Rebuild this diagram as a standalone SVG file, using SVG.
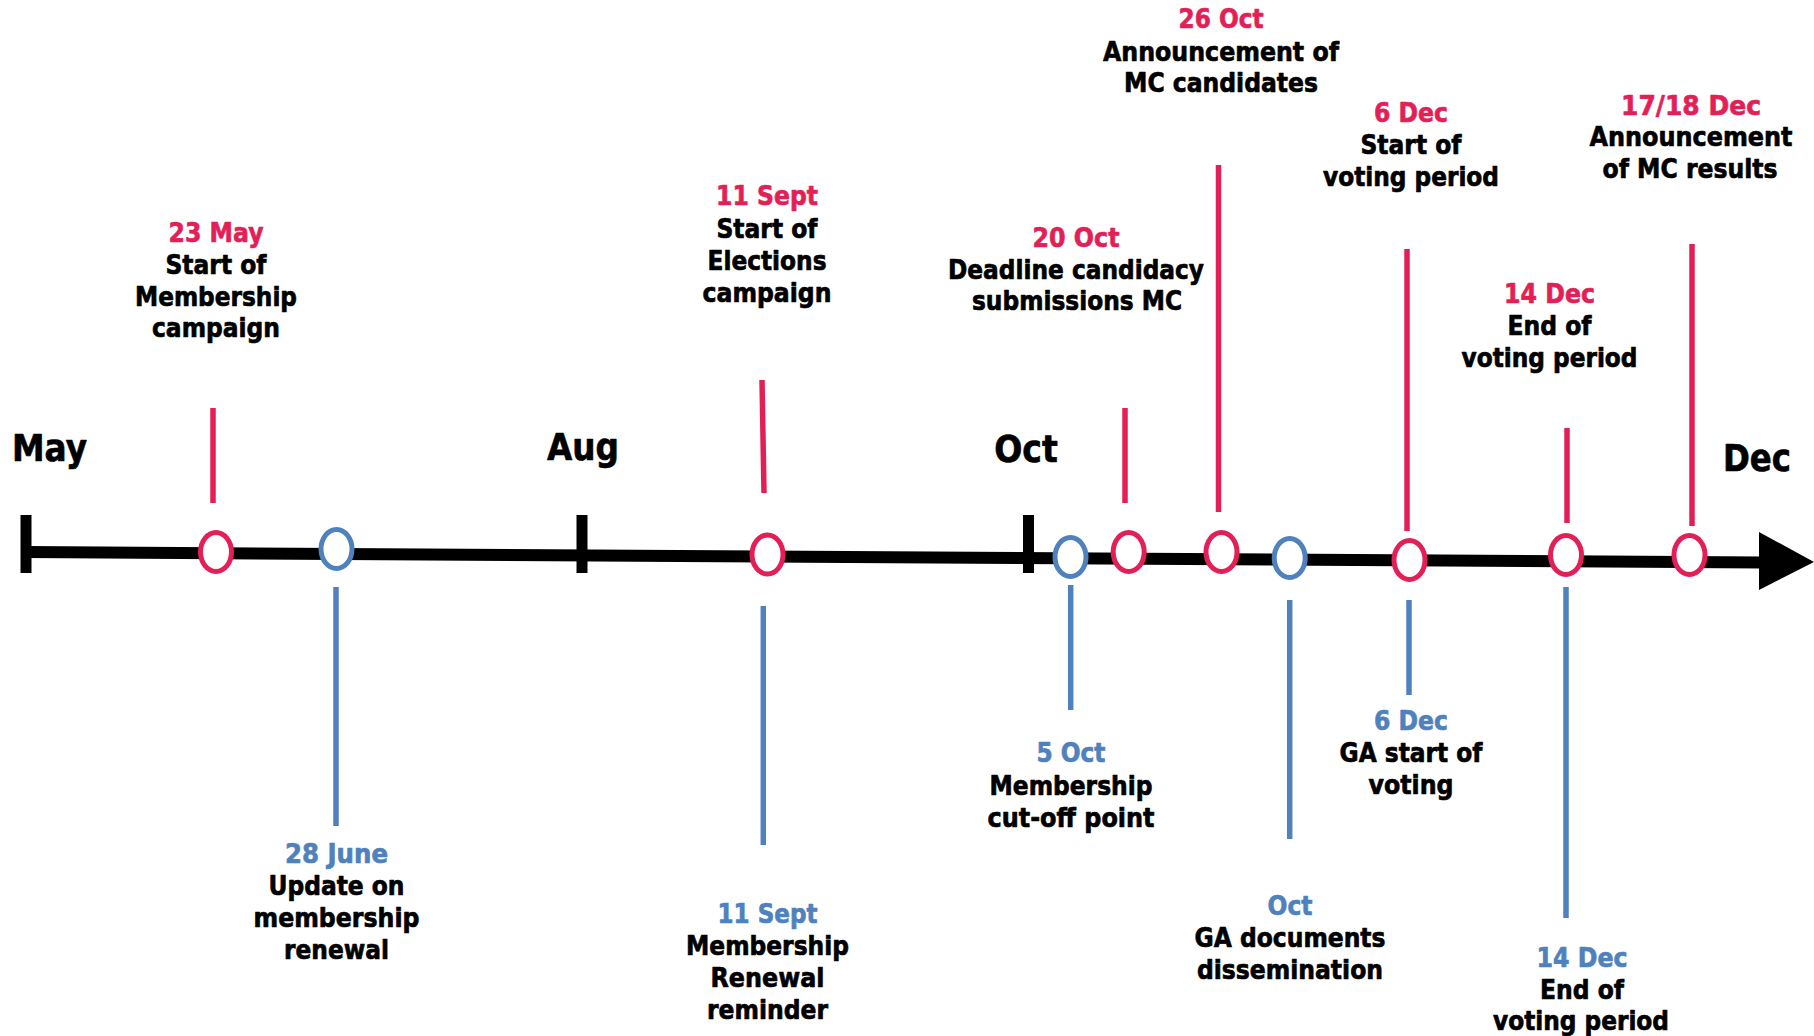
<svg xmlns="http://www.w3.org/2000/svg" width="1814" height="1036" viewBox="0 0 1814 1036">
<style>
text{font-family:"DejaVu Sans","Liberation Sans",sans-serif;font-weight:bold;text-anchor:middle;stroke-width:0.7;stroke-linejoin:round}
.m{font-size:38px;fill:#000;stroke:#000}
.d{font-size:27px}
.r{fill:#E31F57;stroke:#E31F57}
.b{fill:#4F81BD;stroke:#4F81BD}
.k{fill:#000;stroke:#000}
.er{fill:#fff;stroke:#E31F57;stroke-width:5}
.eb{fill:#fff;stroke:#4F81BD;stroke-width:5}
.sr{stroke:#E31F57;stroke-width:5.5;fill:none}
.sb{stroke:#4F81BD;stroke-width:5.5;fill:none}
.ax{stroke:#000;stroke-width:12;fill:none}
.tk{stroke:#000;stroke-width:11;fill:none}
</style>
<rect width="1814" height="1036" fill="#fff"/>
<g id="connectors">
  <line class="ax" x1="26" y1="552" x2="1762" y2="562.5"/>
  <polygon points="1759,532 1814,562 1759,590" fill="#000"/>
  <line class="tk" x1="26" y1="515" x2="26" y2="573"/>
  <line class="tk" x1="582" y1="515" x2="582" y2="573"/>
  <line class="tk" x1="1028.5" y1="515" x2="1028.5" y2="573"/>
  <line class="sr" x1="213" y1="408" x2="213" y2="503"/>
  <line class="sr" x1="762" y1="380" x2="764" y2="493"/>
  <line class="sr" x1="1125" y1="408" x2="1125" y2="503"/>
  <line class="sr" x1="1218.5" y1="165" x2="1218.5" y2="512"/>
  <line class="sr" x1="1407" y1="249" x2="1407" y2="531"/>
  <line class="sr" x1="1567" y1="428" x2="1567" y2="523"/>
  <line class="sr" x1="1692" y1="244" x2="1692" y2="526"/>
  <line class="sb" x1="336" y1="587" x2="336" y2="826"/>
  <line class="sb" x1="763.3" y1="606" x2="763.3" y2="845"/>
  <line class="sb" x1="1070.7" y1="585" x2="1070.7" y2="710"/>
  <line class="sb" x1="1289.7" y1="600" x2="1289.7" y2="839"/>
  <line class="sb" x1="1409" y1="600" x2="1409" y2="695"/>
  <line class="sb" x1="1566" y1="587" x2="1566" y2="918"/>
</g>
<g id="month-may"><text class="m" x="49.5" y="461" textLength="75" lengthAdjust="spacingAndGlyphs">May</text></g>
<g id="month-aug"><text class="m" x="583" y="460" textLength="72" lengthAdjust="spacingAndGlyphs">Aug</text></g>
<g id="month-oct"><text class="m" x="1026" y="462" textLength="63.5" lengthAdjust="spacingAndGlyphs">Oct</text></g>
<g id="month-dec"><text class="m" x="1757" y="471" textLength="68" lengthAdjust="spacingAndGlyphs">Dec</text></g>

<g id="ev-23may">
  <ellipse class="er" cx="216" cy="552" rx="15.5" ry="19.5"/>
  <text class="d r" x="216" y="242" textLength="95" lengthAdjust="spacingAndGlyphs">23 May</text>
  <text class="d k" x="216" y="274" textLength="101" lengthAdjust="spacingAndGlyphs">Start of</text>
  <text class="d k" x="216" y="306" textLength="162" lengthAdjust="spacingAndGlyphs">Membership</text>
  <text class="d k" x="216" y="337" textLength="128" lengthAdjust="spacingAndGlyphs">campaign</text>
</g>
<g id="ev-28june">
  <ellipse class="eb" cx="336.5" cy="549" rx="15.5" ry="19.5"/>
  <text class="d b" x="336.5" y="863" textLength="103" lengthAdjust="spacingAndGlyphs">28 June</text>
  <text class="d k" x="336.5" y="895" textLength="136" lengthAdjust="spacingAndGlyphs">Update on</text>
  <text class="d k" x="336.5" y="927" textLength="166" lengthAdjust="spacingAndGlyphs">membership</text>
  <text class="d k" x="336.5" y="959" textLength="105" lengthAdjust="spacingAndGlyphs">renewal</text>
</g>
<g id="ev-11sept">
  <ellipse class="er" cx="767.5" cy="554.5" rx="15.5" ry="19.5"/>
  <text class="d r" x="767" y="205" textLength="102" lengthAdjust="spacingAndGlyphs">11 Sept</text>
  <text class="d k" x="767" y="238" textLength="101" lengthAdjust="spacingAndGlyphs">Start of</text>
  <text class="d k" x="767" y="270" textLength="119" lengthAdjust="spacingAndGlyphs">Elections</text>
  <text class="d k" x="767" y="302" textLength="129" lengthAdjust="spacingAndGlyphs">campaign</text>
</g>
<g id="ev-11sept-reminder">
  <text class="d b" x="767.5" y="923" textLength="100" lengthAdjust="spacingAndGlyphs">11 Sept</text>
  <text class="d k" x="767.5" y="955" textLength="163" lengthAdjust="spacingAndGlyphs">Membership</text>
  <text class="d k" x="767.5" y="987" textLength="114" lengthAdjust="spacingAndGlyphs">Renewal</text>
  <text class="d k" x="767.5" y="1019" textLength="121" lengthAdjust="spacingAndGlyphs">reminder</text>
</g>
<g id="ev-5oct">
  <ellipse class="eb" cx="1070.5" cy="557" rx="15.5" ry="19.5"/>
  <text class="d b" x="1071" y="762" textLength="69" lengthAdjust="spacingAndGlyphs">5 Oct</text>
  <text class="d k" x="1071" y="795" textLength="163" lengthAdjust="spacingAndGlyphs">Membership</text>
  <text class="d k" x="1071" y="827" textLength="167" lengthAdjust="spacingAndGlyphs">cut-off point</text>
</g>
<g id="ev-20oct">
  <ellipse class="er" cx="1128.7" cy="552" rx="15.5" ry="19.5"/>
  <text class="d r" x="1076" y="247" textLength="87" lengthAdjust="spacingAndGlyphs">20 Oct</text>
  <text class="d k" x="1076" y="279" textLength="256" lengthAdjust="spacingAndGlyphs">Deadline candidacy</text>
  <text class="d k" x="1077" y="310" textLength="210" lengthAdjust="spacingAndGlyphs">submissions MC</text>
</g>
<g id="ev-26oct">
  <ellipse class="er" cx="1221.5" cy="552" rx="15.5" ry="19.5"/>
  <text class="d r" x="1221" y="28" textLength="85" lengthAdjust="spacingAndGlyphs">26 Oct</text>
  <text class="d k" x="1221" y="61" textLength="236" lengthAdjust="spacingAndGlyphs">Announcement of</text>
  <text class="d k" x="1221" y="92" textLength="194" lengthAdjust="spacingAndGlyphs">MC candidates</text>
</g>
<g id="ev-oct-ga">
  <ellipse class="eb" cx="1289.7" cy="558" rx="15.5" ry="19.5"/>
  <text class="d b" x="1290" y="915" textLength="45" lengthAdjust="spacingAndGlyphs">Oct</text>
  <text class="d k" x="1290" y="947" textLength="191" lengthAdjust="spacingAndGlyphs">GA documents</text>
  <text class="d k" x="1290" y="979" textLength="186" lengthAdjust="spacingAndGlyphs">dissemination</text>
</g>
<g id="ev-6dec">
  <ellipse class="er" cx="1409.5" cy="560" rx="15.5" ry="19.5"/>
  <text class="d r" x="1411" y="122" textLength="74" lengthAdjust="spacingAndGlyphs">6 Dec</text>
  <text class="d k" x="1411" y="154" textLength="101" lengthAdjust="spacingAndGlyphs">Start of</text>
  <text class="d k" x="1411" y="186" textLength="176" lengthAdjust="spacingAndGlyphs">voting period</text>
</g>
<g id="ev-6dec-ga">
  <text class="d b" x="1411" y="730" textLength="74" lengthAdjust="spacingAndGlyphs">6 Dec</text>
  <text class="d k" x="1411" y="762" textLength="143" lengthAdjust="spacingAndGlyphs">GA start of</text>
  <text class="d k" x="1411" y="794" textLength="85" lengthAdjust="spacingAndGlyphs">voting</text>
</g>
<g id="ev-14dec">
  <ellipse class="er" cx="1566" cy="555" rx="15.5" ry="19.5"/>
  <text class="d r" x="1549.5" y="303" textLength="91" lengthAdjust="spacingAndGlyphs">14 Dec</text>
  <text class="d k" x="1549.5" y="335" textLength="84" lengthAdjust="spacingAndGlyphs">End of</text>
  <text class="d k" x="1549.5" y="367" textLength="176" lengthAdjust="spacingAndGlyphs">voting period</text>
</g>
<g id="ev-14dec-ga">
  <text class="d b" x="1582" y="967" textLength="91" lengthAdjust="spacingAndGlyphs">14 Dec</text>
  <text class="d k" x="1582" y="999" textLength="84" lengthAdjust="spacingAndGlyphs">End of</text>
  <text class="d k" x="1581" y="1030" textLength="176" lengthAdjust="spacingAndGlyphs">voting period</text>
</g>
<g id="ev-1718dec">
  <ellipse class="er" cx="1689.5" cy="555" rx="15.5" ry="19.5"/>
  <text class="d r" x="1691" y="115" textLength="140" lengthAdjust="spacingAndGlyphs">17/18 Dec</text>
  <text class="d k" x="1691" y="146" textLength="203" lengthAdjust="spacingAndGlyphs">Announcement</text>
  <text class="d k" x="1690" y="178" textLength="175" lengthAdjust="spacingAndGlyphs">of MC results</text>
</g>
</svg>
